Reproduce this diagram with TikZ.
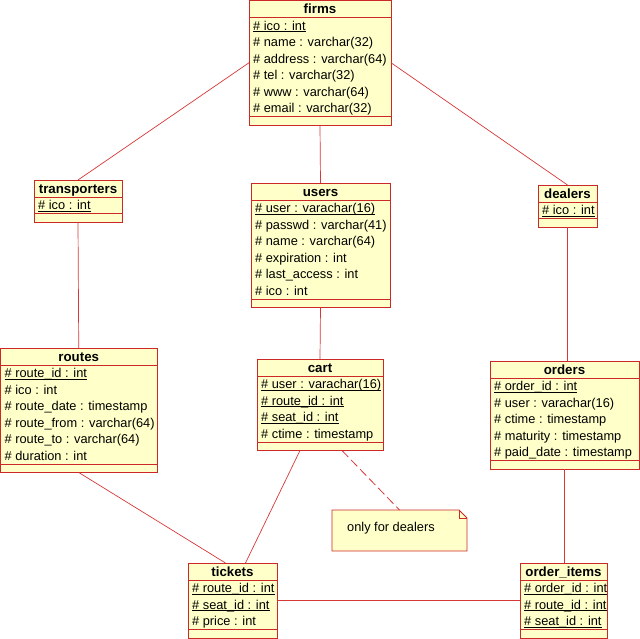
\documentclass[tikz,border=0pt]{standalone}
\usepackage{fontspec}
\setmainfont{Liberation Sans}
\definecolor{umlfill}{RGB}{255,255,202}
\definecolor{umlline}{RGB}{205,40,40}
\definecolor{connline}{RGB}{215,55,55}
\newcommand\keyul[1]{\setbox0\hbox{#1}\rlap{\rule[-1.7pt]{\wd0}{0.7pt}}\box0}
\tikzset{
  classbox/.style={draw=umlline, fill=umlfill, line width=0.9pt, anchor=north west, inner sep=0pt, outer sep=0pt},
  titletext/.style={font=\fontsize{13.3}{15}\selectfont\bfseries, anchor=base, inner sep=0pt},
  attrtext/.style={font=\fontsize{12.8}{14}\selectfont, anchor=base west, inner sep=0pt},
  sepline/.style={draw=umlline, line width=0.9pt},
  conn/.style={draw=connline, line width=0.7pt},
  noteconn/.style={draw=connline, line width=0.8pt, dash pattern=on 9pt off 4pt},
  notebox/.style={draw=umlline, fill=umlfill, line width=0.9pt},
}
\newcommand\umlclass[7]{%
  \pgfmathsetmacro\ubot{#3+17+16.5*#6+8.5}%
  \pgfmathsetmacro\uw{#4-#2}%
  \pgfmathsetmacro\uh{\ubot-#3}%
  \node[classbox, minimum width=\uw pt, minimum height=\uh pt] (#1) at (#2,#3) {};
  \node[titletext] (#1-title) at ({(#2+#4)/2},{#3+13.3}) {#5};
  \draw[sepline] (#2,{#3+17}) -- (#4,{#3+17});
  \draw[sepline] (#2,{#3+17+16.5*#6}) -- (#4,{#3+17+16.5*#6});
  \foreach \ua [count=\ui] in {#7} {
    \node[attrtext] (#1-a\ui) at ({#2+4},{#3+17+12.9+16.5*(\ui-1)}) {\ua};
  }%
}
\begin{document}
\begin{tikzpicture}[x=1pt,y=-1pt]
\useasboundingbox (0,0) rectangle (640,639);

\umlclass{firms}{249}{0.5}{391}{firms}{6}{{\keyul{\# ico : int}},{\# name : varchar(32)},{\# address : varchar(64)},{\# tel : varchar(32)},{\# www : varchar(64)},{\# email : varchar(32)}}
\umlclass{transporters}{34}{180}{122}{transporters}{1}{{\keyul{\# ico : int}}}
\umlclass{users}{251}{183}{390}{users}{6}{{\keyul{\# user : varachar(16)}},{\# passwd : varchar(41)},{\# name : varchar(64)},{\# expiration : int},{\# last\_access : int},{\# ico : int}}
\umlclass{dealers}{538}{185}{597}{dealers}{1}{{\keyul{\# ico : int}}}
\umlclass{routes}{0.5}{348}{157}{routes}{6}{{\keyul{\# route\_id : int}},{\# ico : int},{\# route\_date : timestamp},{\# route\_from : varchar(64)},{\# route\_to : varchar(64)},{\# duration : int}}
\umlclass{cart}{257}{359}{383}{cart}{4}{{\keyul{\# user : varachar(16)}},{\keyul{\# route\_id : int}},{\keyul{\# seat\_id : int}},{\# ctime : timestamp}}
\umlclass{orders}{490}{361}{639}{orders}{5}{{\keyul{\# order\_id : int}},{\# user : varachar(16)},{\# ctime : timestamp},{\# maturity : timestamp},{\# paid\_date : timestamp}}
\umlclass{tickets}{188}{563}{277}{tickets}{3}{{\keyul{\# route\_id : int}},{\keyul{\# seat\_id : int}},{\# price : int}}
\umlclass{orderitems}{520}{563}{607}{order\_items}{3}{{\keyul{\# order\_id : int}},{\keyul{\# route\_id : int}},{\keyul{\# seat\_id : int}}}

% note
\node[minimum width=135pt, minimum height=41pt, anchor=north west, inner sep=0pt, outer sep=0pt] (note) at (332,510) {};
\draw[notebox] (note.north west) -- ([xshift=-8pt]note.north east) -- ([yshift=-8pt]note.north east) -- (note.south east) -- (note.south west) -- cycle;
\draw[notebox, fill=none] ([xshift=-8pt]note.north east) |- ([yshift=-8pt]note.north east);
\node[attrtext] (notetext) at (347,531.5) {only for dealers};

% connectors
\draw[conn] (firms.west) -- (transporters.north);
\draw[conn] (firms.south) -- (users.north);
\draw[conn] (firms.east) -- (dealers.north);
\draw[conn] (transporters.south) -- (routes.north);
\draw[conn] (users.south) -- (cart.north);
\draw[conn] (dealers.south) -- (dealers.south |- orders.north);
\draw[conn] (orders.south) -- (orders.south |- orderitems.north);
\draw[conn] (routes.south) -- ([xshift=-7pt]tickets.north);
\draw[conn] ([xshift=-20pt]cart.south) -- ([xshift=13pt]tickets.north);
\draw[conn] (tickets.east) -- (orderitems.west);
\draw[noteconn] ([xshift=22pt]cart.south) -- (note.north);
\end{tikzpicture}
\end{document}
